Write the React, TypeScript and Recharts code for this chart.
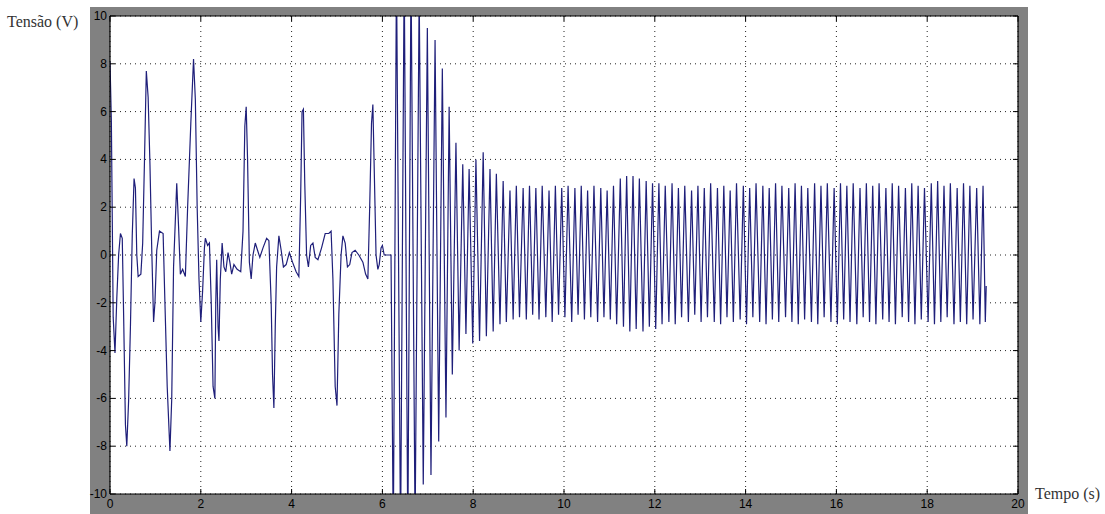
import React from 'react';
import { LineChart, Line, XAxis, YAxis, CartesianGrid } from 'recharts';

const X_TICKS = [0, 2, 4, 6, 8, 10, 12, 14, 16, 18, 20];
const Y_TICKS = [-10, -8, -6, -4, -2, 0, 2, 4, 6, 8, 10];
const X_LABEL = 'Tempo (s)';
const Y_LABEL = 'Tensão (V)';

// [time (s), voltage (V)]
const startup: [number, number][] = [
  [0, 8.1], [0.03, 5.6], [0.07, -2.6], [0.11, -4.1], [0.15, -1.8], [0.19, 0.0], [0.23, 0.9], [0.27, 0.7],
  [0.3, -2.5], [0.34, -7.1], [0.37, -8.0], [0.41, -6.1], [0.45, -3.0], [0.49, 0.8], [0.53, 3.2], [0.56, 2.8],
  [0.59, 0.0], [0.62, -0.9], [0.68, -0.8], [0.72, 0.5], [0.76, 4.0], [0.8, 7.7], [0.84, 6.6], [0.88, 3.8],
  [0.92, 0.2], [0.96, -2.8], [0.99, -2.0], [1.03, 0.2], [1.09, 1.0], [1.17, 0.9], [1.21, -2.0], [1.26, -5.5],
  [1.32, -8.2], [1.36, -6.0], [1.4, -0.5], [1.44, 1.5], [1.47, 3.0], [1.51, 1.2], [1.55, -0.8], [1.6, -0.6],
  [1.66, -0.9], [1.71, 2.0], [1.78, 5.5], [1.84, 8.2], [1.88, 6.5], [1.92, 2.0], [1.96, -1.0], [2.0, -2.8],
  [2.04, -1.5], [2.08, 0.3], [2.1, 0.7], [2.15, 0.4], [2.19, 0.5], [2.23, -2.0], [2.27, -5.5], [2.31, -6.0],
  [2.33, -2.0], [2.35, -0.2], [2.38, -3.0], [2.4, -3.6], [2.43, -1.0], [2.47, 0.5], [2.51, -0.5], [2.55, -0.7],
  [2.6, 0.1], [2.64, -0.3], [2.68, -0.8], [2.73, -0.4], [2.8, -0.6], [2.88, -0.7], [2.93, 1.0], [2.97, 5.4],
  [3.0, 6.2], [3.03, 4.0], [3.07, -0.3], [3.11, -1.0], [3.15, 0.0], [3.2, 0.5], [3.25, 0.2], [3.3, -0.1],
  [3.37, 0.3], [3.45, 0.7], [3.5, 0.6], [3.55, -2.0], [3.58, -5.0], [3.61, -6.4], [3.64, -3.0], [3.67, -0.5],
  [3.72, 0.8], [3.77, 0.2], [3.82, -0.5], [3.88, -0.4], [3.95, 0.1], [4.02, -0.3], [4.1, -0.7], [4.16, -0.9],
  [4.2, 2.5], [4.23, 6.0], [4.26, 6.1], [4.29, 3.0], [4.33, 0.0], [4.37, -0.5], [4.42, 0.4], [4.47, 0.5],
  [4.52, -0.1], [4.58, -0.2], [4.66, 0.3], [4.74, 0.9], [4.82, 0.9], [4.87, 1.0], [4.91, -1.0], [4.96, -5.5],
  [5.0, -6.3], [5.04, -2.5], [5.09, 0.0], [5.13, 0.8], [5.18, 0.5], [5.23, -0.5], [5.28, -0.4], [5.33, 0.1],
  [5.4, 0.2], [5.48, 0.0], [5.57, -0.3], [5.63, -0.8], [5.68, -1.0], [5.72, 2.0], [5.76, 5.5], [5.79, 6.3],
  [5.81, 4.5], [5.86, 0.0], [5.9, -0.6], [5.93, -0.4], [5.97, 0.3], [6.0, 0.4], [6.04, 0.0], [6.19, 0.0],
];

const surge: [number, number][] = [
  [6.24, -12], [6.31, 12], [6.4, -12], [6.48, 12], [6.56, -12], [6.63, 12], [6.72, -11.5], [6.81, 11],
  [6.9, -9.6], [6.99, 9.5], [7.07, -9.2], [7.16, 9.0], [7.24, -7.8], [7.32, 7.8], [7.4, -6.8], [7.47, 6.2],
  [7.54, -5.0], [7.62, 4.7], [7.69, -4.0], [7.77, 3.8], [7.84, -3.3], [7.91, 3.6], [7.99, -3.7], [8.06, 4.0],
  [8.14, -3.6], [8.22, 4.3], [8.29, -3.4], [8.37, 3.6], [8.44, -3.2], [8.51, 3.4], [8.59, -2.9], [8.66, 3.1],
  [8.73, -2.8],
];

const steady: [number, number][] = [
  [8.81, 2.7], [8.88, -2.7], [8.95, 2.9], [9.02, -2.6], [9.1, 2.8], [9.17, -2.7], [9.24, 2.9], [9.31, -2.5],
  [9.38, 2.8], [9.45, -2.7], [9.52, 2.9], [9.6, -2.6], [9.67, 2.7], [9.74, -2.8], [9.81, 2.9], [9.88, -2.5],
  [9.95, 2.8], [10.02, -2.6], [10.09, 2.9], [10.17, -2.8], [10.24, 2.8], [10.31, -2.5], [10.38, 2.9], [10.45, -2.7],
  [10.52, 2.7], [10.59, -2.6], [10.66, 2.9], [10.74, -2.8], [10.81, 2.8], [10.88, -2.6], [10.95, 2.7], [11.02, -2.7],
  [11.09, 2.9], [11.16, -2.9], [11.24, 3.2], [11.31, -3.0], [11.38, 3.3], [11.45, -3.2], [11.52, 3.3], [11.59, -3.1],
  [11.66, 3.2], [11.74, -3.2], [11.81, 3.1], [11.88, -3.0], [11.95, 3.0], [12.02, -3.1], [12.09, 3.0], [12.16, -2.9],
  [12.23, 2.9], [12.31, -2.8], [12.38, 3.0], [12.45, -2.9], [12.52, 2.8], [12.59, -2.6], [12.66, 2.9], [12.74, -2.8],
  [12.81, 2.7], [12.88, -2.5], [12.95, 2.9], [13.02, -2.8], [13.09, 2.8], [13.16, -2.6], [13.23, 3.0], [13.31, -2.8],
  [13.38, 2.8], [13.45, -2.9], [13.52, 2.9], [13.59, -2.6], [13.66, 2.7], [13.73, -2.8], [13.8, 3.0], [13.88, -2.7],
  [13.95, 2.9], [14.02, -2.9], [14.09, 2.8], [14.16, -2.6], [14.23, 3.0], [14.31, -2.8], [14.38, 2.9], [14.45, -2.9],
  [14.52, 2.8], [14.59, -2.7], [14.66, 3.0], [14.73, -2.8], [14.8, 2.9], [14.88, -2.6], [14.95, 2.8], [15.02, -2.8],
  [15.09, 3.0], [15.16, -2.9], [15.23, 2.9], [15.3, -2.7], [15.37, 2.8], [15.45, -2.8], [15.52, 3.0], [15.59, -2.9],
  [15.66, 2.9], [15.73, -2.6], [15.8, 3.0], [15.88, -2.8], [15.95, 2.8], [16.02, -2.9], [16.09, 3.0], [16.16, -2.7],
  [16.23, 2.9], [16.3, -2.8], [16.37, 3.0], [16.45, -2.9], [16.52, 2.8], [16.59, -2.6], [16.66, 3.0], [16.73, -2.8],
  [16.8, 2.9], [16.87, -2.9], [16.94, 3.0], [17.02, -2.7], [17.09, 2.8], [17.16, -2.8], [17.23, 3.0], [17.3, -2.9],
  [17.37, 2.9], [17.45, -2.6], [17.52, 2.8], [17.59, -2.8], [17.66, 3.0], [17.73, -2.9], [17.8, 2.9], [17.87, -2.7],
  [17.94, 2.8], [18.02, -2.8], [18.09, 3.0], [18.16, -2.9], [18.23, 3.1], [18.3, -2.8], [18.37, 2.9], [18.44, -2.6],
  [18.51, 3.0], [18.59, -2.9], [18.66, 2.8], [18.73, -2.8], [18.8, 3.0], [18.87, -2.9], [18.94, 2.9], [19.01, -2.7],
  [19.09, 2.8], [19.16, -2.9], [19.23, 2.9], [19.28, -2.8], [19.3, -1.3],
];

const data = [...startup, ...surge, ...steady].map(([t, v]) => ({ t, v }));

const TICK_FONT = '"Liberation Sans", Arial, sans-serif';
const TITLE_FONT = '"Liberation Serif", "DejaVu Serif", serif';

const LeftTick = (props: any) => {
  const { x, y, payload } = props;
  return (
    <g>
      <line x1={x} x2={x + 5} y1={y} y2={y} stroke="#000" strokeWidth={1} />
      <text x={x - 3} y={y} textAnchor="end" dominantBaseline="central" fontSize={12} fill="#000" fontFamily={TICK_FONT}>
        {payload.value}
      </text>
    </g>
  );
};

const BottomTick = (props: any) => {
  const { x, y, payload } = props;
  return (
    <g>
      <line x1={x} x2={x} y1={y} y2={y - 5} stroke="#000" strokeWidth={1} />
      <text x={x} y={y + 10} textAnchor="middle" dominantBaseline="central" fontSize={12} fill="#000" fontFamily={TICK_FONT}>
        {payload.value}
      </text>
    </g>
  );
};

const RightTick = (props: any) => {
  const { x, y } = props;
  return <line x1={x} x2={x - 5} y1={y} y2={y} stroke="#000" strokeWidth={1} />;
};

const TopTick = (props: any) => {
  const { x, y } = props;
  return <line x1={x} x2={x} y1={y} y2={y + 5} stroke="#000" strokeWidth={1} />;
};

export default function App() {
  return (
    <div style={{ position: 'absolute', left: 0, top: 0, width: 1105, height: 514, background: '#fff', overflow: 'hidden' }}>
      <div style={{ position: 'absolute', left: 90, top: 7, width: 938, height: 507, background: '#818181' }} />
      <div
        style={{
          position: 'absolute', left: 7, top: 14, fontFamily: TITLE_FONT, fontSize: 16, lineHeight: '16px',
          color: '#333', whiteSpace: 'nowrap',
        }}
      >
        {Y_LABEL}
      </div>
      <div
        style={{
          position: 'absolute', left: 1035, top: 486, fontFamily: TITLE_FONT, fontSize: 16, lineHeight: '16px',
          color: '#333', whiteSpace: 'nowrap',
        }}
      >
        {X_LABEL}
      </div>
      <div style={{ position: 'absolute', left: 0, top: 0 }}>
        <LineChart width={1105} height={514} data={data} margin={{ top: 6, right: 77, bottom: 0, left: 0 }}>
          <CartesianGrid stroke="#222" strokeDasharray="1 4" fill="#fff" fillOpacity={1} />
          <XAxis
            dataKey="t"
            type="number"
            domain={[0, 20]}
            ticks={X_TICKS}
            interval={0}
            allowDataOverflow
            height={20}
            tickSize={0}
            tickMargin={0}
            tickLine={false}
            axisLine={{ stroke: '#000', strokeWidth: 1.2 }}
            tick={<BottomTick />}
          />
          <XAxis
            xAxisId="top"
            orientation="top"
            dataKey="t"
            type="number"
            domain={[0, 20]}
            ticks={X_TICKS}
            interval={0}
            allowDataOverflow
            height={10}
            tickSize={0}
            tickMargin={0}
            tickLine={false}
            axisLine={{ stroke: '#000', strokeWidth: 1.2 }}
            tick={<TopTick />}
          />
          <YAxis
            type="number"
            domain={[-10, 10]}
            ticks={Y_TICKS}
            interval={0}
            allowDataOverflow
            width={110}
            tickSize={0}
            tickMargin={0}
            tickLine={false}
            axisLine={{ stroke: '#000', strokeWidth: 1.2 }}
            tick={<LeftTick />}
          />
          <YAxis
            yAxisId="right"
            orientation="right"
            type="number"
            domain={[-10, 10]}
            ticks={Y_TICKS}
            interval={0}
            allowDataOverflow
            width={10}
            tickSize={0}
            tickMargin={0}
            tickLine={false}
            axisLine={{ stroke: '#000', strokeWidth: 1.2 }}
            tick={<RightTick />}
          />
          <Line
            type="linear"
            dataKey="v"
            stroke="#1f1f7a"
            strokeWidth={1.2}
            dot={false}
            activeDot={false}
            isAnimationActive={false}
          />
        </LineChart>
      </div>
    </div>
  );
}
